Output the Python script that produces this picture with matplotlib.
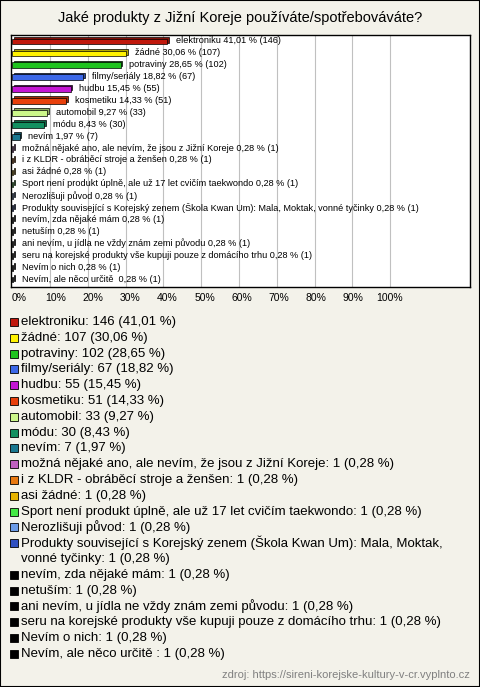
import textwrap
import matplotlib
matplotlib.use('Agg')
from matplotlib import pyplot as plt
from matplotlib.patches import Rectangle
from matplotlib.colors import to_rgb

plt.rcParams['font.family'] = ['Liberation Sans', 'DejaVu Sans']

title = 'Jaké produkty z Jižní Koreje používáte/spotřebováváte?'
source = 'zdroj: https://sireni-korejske-kultury-v-cr.vyplnto.cz'

labels = [
    'elektroniku', 'žádné', 'potraviny', 'filmy/seriály', 'hudbu', 'kosmetiku',
    'automobil', 'módu', 'nevím',
    'možná nějaké ano, ale nevím, že jsou z Jižní Koreje',
    'i z KLDR - obráběcí stroje a ženšen',
    'asi žádné',
    'Sport není produkt úplně, ale už 17 let cvičím taekwondo',
    'Nerozlišuji původ',
    'Produkty související s Korejský zenem (Škola Kwan Um): Mala, Moktak, vonné tyčinky',
    'nevím, zda nějaké mám',
    'netuším',
    'ani nevím, u jídla ne vždy znám zemi původu',
    'seru na korejské produkty vše kupuji pouze z domácího trhu',
    'Nevím o nich',
    'Nevím, ale něco určitě ',
]
counts = [146, 107, 102, 67, 55, 51, 33, 30, 7] + [1] * 12
percents = [41.01, 30.06, 28.65, 18.82, 15.45, 14.33, 9.27, 8.43, 1.97] + [0.28] * 12
colors = [
    '#c0180c', '#fff200', '#1ec41e', '#3c68e8', '#c416d4', '#e8400c',
    '#ccf78a', '#129060', '#1a7890', '#c060c0', '#e87810', '#e8b400',
    '#44e844', '#6b9be6', '#3050c0',
    '#000000', '#000000', '#000000', '#000000', '#000000', '#000000',
]
tick_vals = [0, 10, 20, 30, 40, 50, 60, 70, 80, 90, 100]

W, H = 480, 687
bg = '#f3f2ea'


def fx(px):
    return px / W


def fy(py):
    return 1 - py / H


def pct_str(v):
    return f'{v:.2f}'.replace('.', ',')


def darker(c, f=0.7):
    r, g, b = to_rgb(c)
    return (r * f, g * f, b * f)


fig = plt.figure(figsize=(4.8, 6.87), dpi=100, facecolor=bg)
fig.patches.append(Rectangle((0, 0), 1, 1, transform=fig.transFigure,
                             fill=False, edgecolor='black', lw=1.5))

fig.text(0.5, fy(18), title, ha='center', va='center', fontsize=10.5)

ax = fig.add_axes([fx(11), fy(287), fx(470 - 11), (287 - 35) / H])
ax.set_facecolor('white')
for s in ax.spines.values():
    s.set_linewidth(1.0)

ys = list(range(len(labels)))
for y, p, c in zip(ys, percents, colors):
    ax.barh(y - 0.1, p, left=0.45, height=0.48, color=darker(c),
            edgecolor='black', lw=0.5, zorder=2)
    ax.barh(y + 0.05, p, height=0.48, color=c, edgecolor='black', lw=0.5, zorder=3)

for y, lab, p, n in zip(ys, labels, percents, counts):
    ax.text(p + 2.3, y, f'{lab} {pct_str(p)} % ({n})', va='center', ha='left',
            fontsize=6.6, zorder=4)

ax.set_xlim(-0.32, 121.1)
ax.set_ylim(20.67, -0.5)
ax.set_xticks(tick_vals[1:])
ax.set_xticklabels([])
ax.set_yticks([])
ax.tick_params(length=0)
ax.grid(axis='x', color='#c0c0c0', lw=0.8, zorder=0)
ax.set_axisbelow(True)

# x tick labels sit slightly offset from the gridlines, as in the source
for i, t in enumerate(tick_vals):
    fig.text(fx(19 + 37.1 * i), fy(298), f'{t}%', ha='center', va='center', fontsize=7.5)

# legend, one text per line so long items wrap like the source
row = 322
for lab, n, p, c in zip(labels, counts, percents, colors):
    lines = textwrap.wrap(f'{lab}: {n} ({pct_str(p)} %)', width=72)
    fig.patches.append(Rectangle((fx(10), fy(row + 4)), fx(8), 8 / H,
                                 transform=fig.transFigure, facecolor=c,
                                 edgecolor='black', lw=0.6))
    for line in lines:
        fig.text(fx(21), fy(row), line, ha='left', va='center', fontsize=9.5)
        row += 15.8

fig.text(fx(470), fy(675), source, ha='right', va='center', fontsize=8, color='#808080')

fig.savefig('out.png', dpi=100, facecolor=bg)
